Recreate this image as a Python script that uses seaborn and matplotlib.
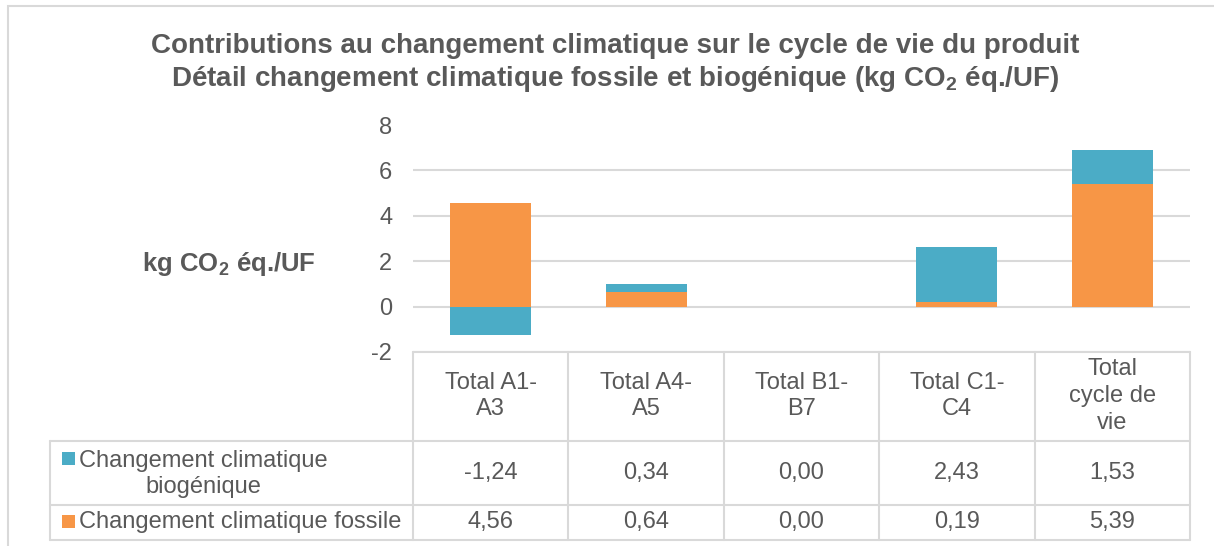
import numpy as np
import pandas as pd
import matplotlib
matplotlib.use("Agg")
import matplotlib.pyplot as plt
import matplotlib.transforms as mtransforms
import seaborn as sns

# données du graphique
categories = ["Total A1-A3", "Total A4-A5", "Total B1-B7", "Total C1-C4", "Total cycle de vie"]
header_labels = ["Total A1-\nA3", "Total A4-\nA5", "Total B1-\nB7", "Total C1-\nC4", "Total\ncycle de\nvie"]
biogenique = [-1.24, 0.34, 0.00, 2.43, 1.53]
fossile = [4.56, 0.64, 0.00, 0.19, 5.39]
series_names = ["Changement climatique\nbiogénique", "Changement climatique fossile"]
yticks = [-2, 0, 2, 4, 6, 8]

TEAL = "#4BACC6"
ORANGE = "#F79646"
GREY = "#595959"
LINE = "#D9D9D9"
FS = 17

sns.set_theme(style="white")
plt.rcParams["font.family"] = ["Liberation Sans", "DejaVu Sans"]
plt.rcParams["mathtext.fontset"] = "custom"
plt.rcParams["mathtext.rm"] = "Liberation Sans"
plt.rcParams["mathtext.bf"] = "Liberation Sans:bold"

W, H = 1214, 546
fig = plt.figure(figsize=(W / 100, H / 100), dpi=100)

def fx(x):
    return x / W

def fy(y):
    return 1 - y / H

ax = fig.add_axes([fx(413), fy(352), fx(1190) - fx(413), fy(125) - fy(352)])

df = pd.DataFrame({"cat": categories, "bio": biogenique, "fos": fossile})
# empilement façon Excel : positif au-dessus du fossile, négatif sous zéro
df["top"] = np.where(df["bio"] > 0, df["fos"] + df["bio"], df["bio"])

sns.barplot(data=df, x="cat", y="top", color=TEAL, saturation=1, width=0.52,
            order=categories, ax=ax, linewidth=0)
sns.barplot(data=df, x="cat", y="fos", color=ORANGE, saturation=1, width=0.52,
            order=categories, ax=ax, linewidth=0)

ax.set_ylim(-2, 8)
ax.set_yticks(yticks)
ax.set_yticklabels([str(t) for t in yticks], fontsize=FS, color=GREY)
ax.tick_params(axis="y", length=0, pad=15)
ax.set_xticks([])
ax.set_xlabel("")
ax.set_ylabel("")
for s in ax.spines.values():
    s.set_visible(False)
ax.yaxis.grid(True, color=LINE, linewidth=1.5)
ax.set_axisbelow(True)
ax.get_ygridlines()[-1].set_visible(False)

# titre
fig.text(fx(615), fy(46), "Contributions au changement climatique sur le cycle de vie du produit",
         ha="center", va="center", fontsize=20, fontweight="bold", color=GREY)
fig.text(fx(615), fy(79), r"Détail changement climatique fossile et biogénique (kg CO$_\mathbf{2}$ éq./UF)",
         ha="center", va="center", fontsize=20, fontweight="bold", color=GREY)

# titre de l'axe
fig.text(fx(229), fy(264), r"kg CO$_\mathbf{2}$ éq./UF", ha="center", va="center",
         fontsize=18.5, fontweight="bold", color=GREY)

# tableau de données
tr = mtransforms.blended_transform_factory(ax.transData, fig.transFigure)
edges = np.arange(len(categories) + 1) - 0.5
row_y = [352, 441, 505, 540]

def hline(x0, x1, y, trans):
    fig.add_artist(plt.Line2D([x0, x1], [fy(y), fy(y)], transform=trans, color=LINE, lw=1.5))

def vline(x, y0, y1, trans):
    fig.add_artist(plt.Line2D([x, x], [fy(y0), fy(y1)], transform=trans, color=LINE, lw=1.5))

hline(edges[0], edges[-1], row_y[0], tr)
for y in row_y[1:]:
    hline(fx(50), fx(1190), y, fig.transFigure)
for e in edges:
    vline(e, row_y[0], row_y[-1], tr)
vline(fx(50), row_y[1], row_y[-1], fig.transFigure)

for i, lab in enumerate(header_labels):
    fig.text(i, fy(396), lab, transform=tr, ha="center", va="center",
             fontsize=FS, color=GREY, linespacing=1.28)
    fig.text(i, fy(473), f"{biogenique[i]:.2f}".replace(".", ","), transform=tr,
             ha="center", va="center", fontsize=FS, color=GREY)
    fig.text(i, fy(522), f"{fossile[i]:.2f}".replace(".", ","), transform=tr,
             ha="center", va="center", fontsize=FS, color=GREY)

# légende intégrée
fig.add_artist(plt.Rectangle((fx(62), fy(465)), fx(13), fy(452) - fy(465),
                             transform=fig.transFigure, color=TEAL, lw=0))
fig.text(fx(79), fy(474), series_names[0], ha="left", va="center", multialignment="center",
         fontsize=FS, color=GREY, linespacing=1.2)
fig.add_artist(plt.Rectangle((fx(62), fy(528)), fx(13), fy(515) - fy(528),
                             transform=fig.transFigure, color=ORANGE, lw=0))
fig.text(fx(79), fy(522), series_names[1], ha="left", va="center",
         fontsize=FS, color=GREY)

# cadre du graphique
fig.add_artist(plt.Rectangle((fx(8), -0.1), 1.2, fy(6) + 0.1, transform=fig.transFigure,
                             fill=False, edgecolor=LINE, lw=1.5))

fig.savefig("out.png", dpi=100)
